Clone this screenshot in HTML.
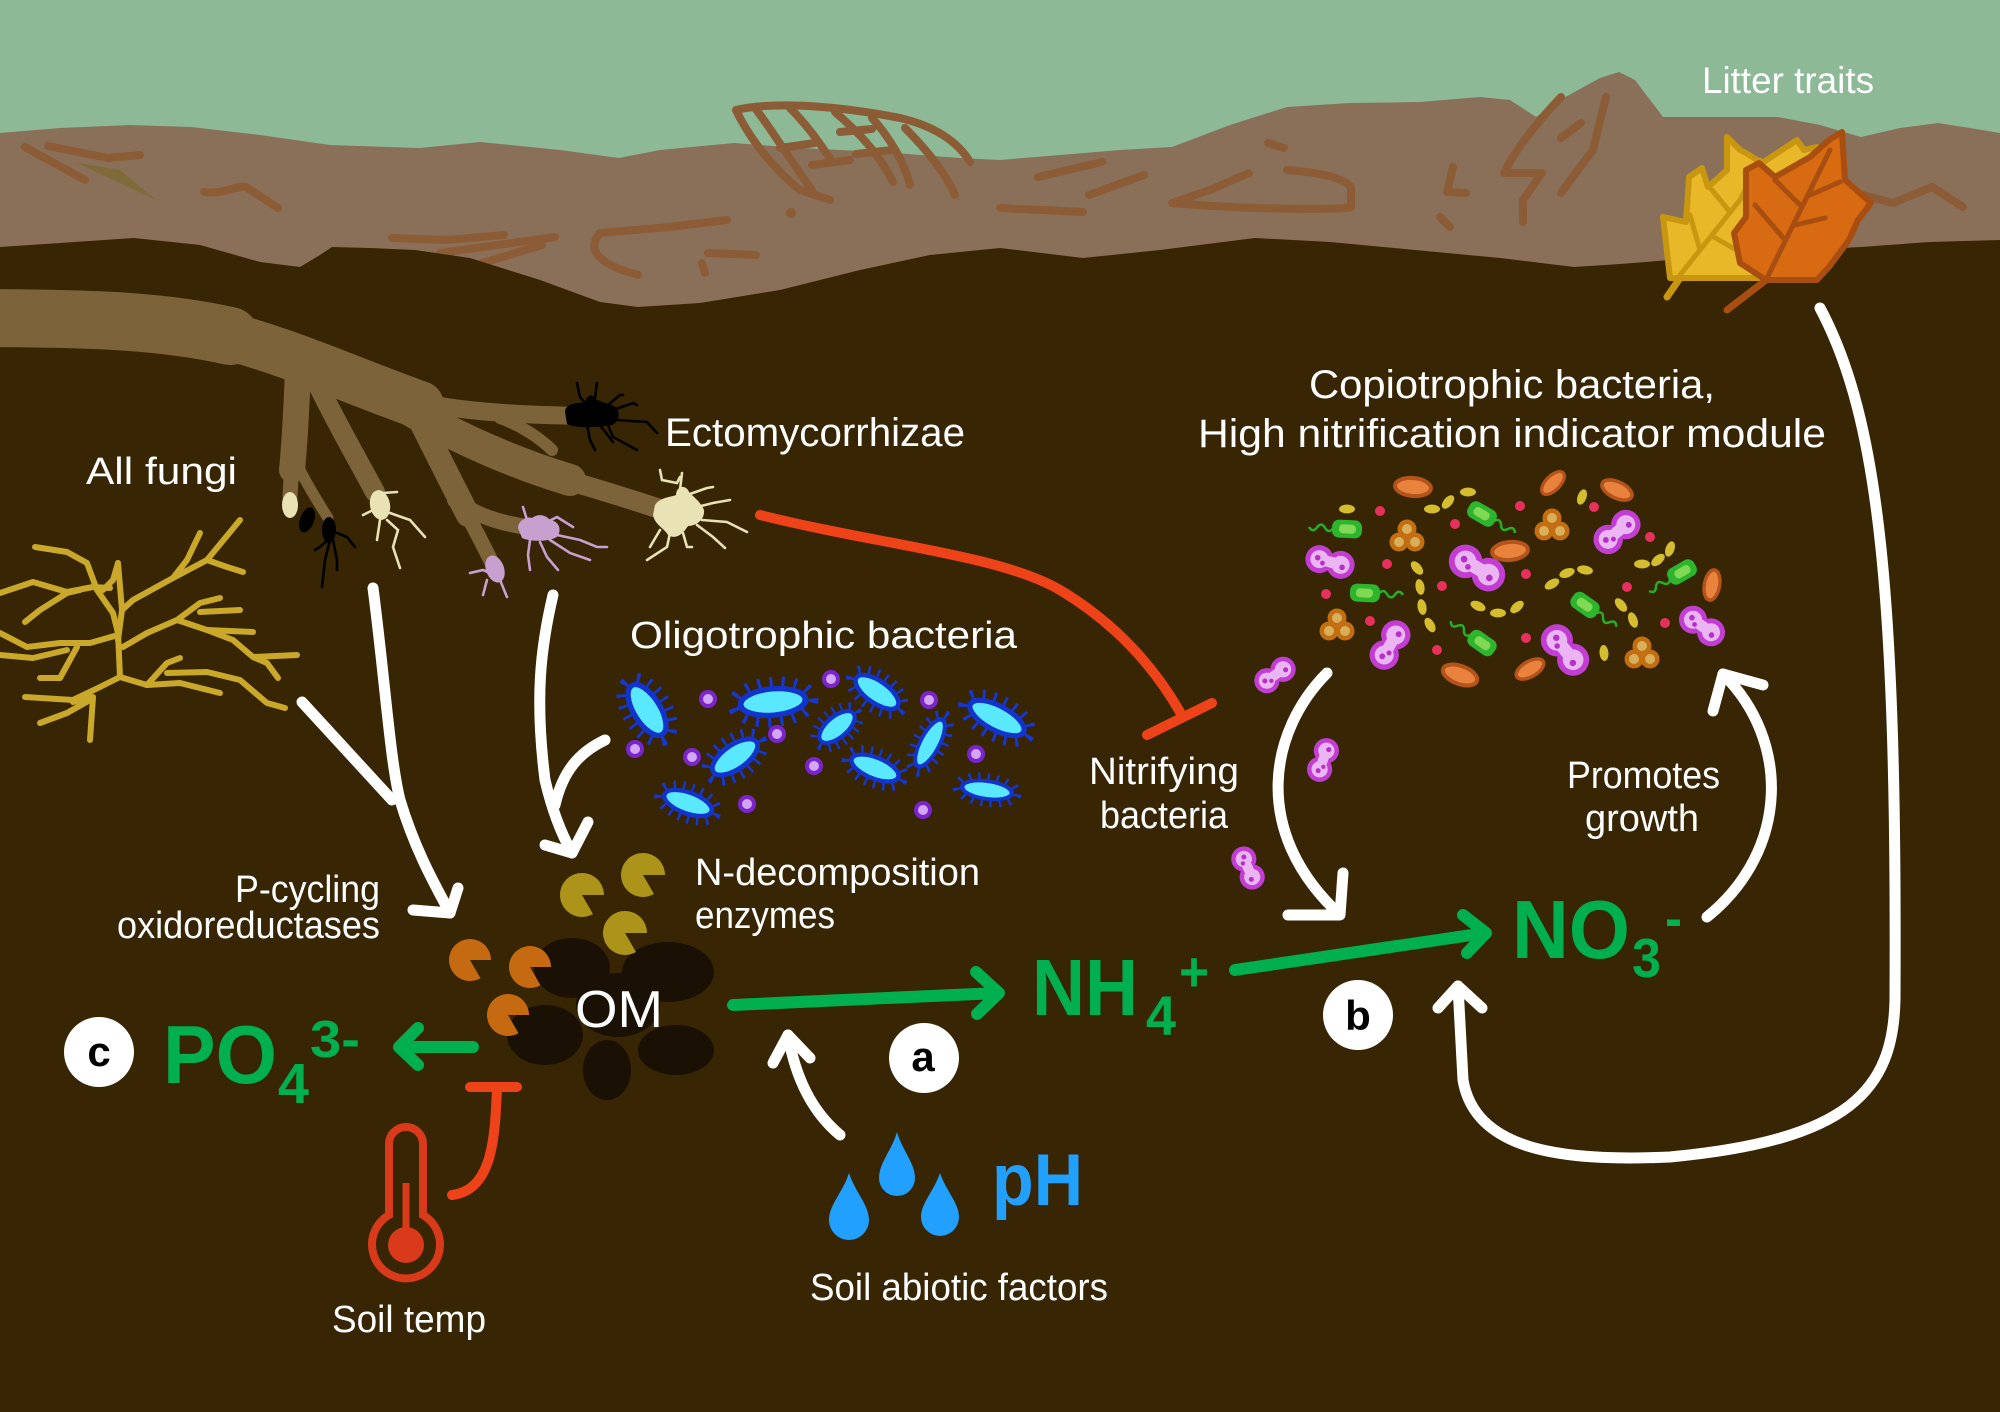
<!DOCTYPE html>
<html><head><meta charset="utf-8">
<style>html,body{margin:0;padding:0;background:#372503;overflow:hidden}svg{display:block}</style>
</head>
<body>
<svg width="2000" height="1412" viewBox="0 0 2000 1412" xmlns="http://www.w3.org/2000/svg">
<defs>
  <g id="oli"><ellipse rx="27" ry="13" fill="none" stroke="#1636D6" stroke-width="16" stroke-dasharray="2.2 6.5"/><ellipse rx="25" ry="11" fill="#5AE8FF" stroke="#1234CC" stroke-width="4.5"/></g>
  <g id="pd"><circle r="9" fill="#7A24D0"/><circle r="5" fill="#D4A6F2"/></g>
  <g id="dip"><circle cx="-11" r="14" fill="#C23ED3"/><circle cx="11" r="14" fill="#C23ED3"/><circle cx="-11" r="9" fill="#EBB4F3"/><circle cx="11" r="9" fill="#EBB4F3"/><rect x="-11" y="-5.5" width="22" height="11" fill="#EBB4F3"/><circle cx="-13" cy="-1" r="2.8" fill="#B531C6"/><circle cx="13" cy="2" r="2.8" fill="#B531C6"/><circle cx="-7" cy="3" r="2.4" fill="#B531C6"/></g>
  <g id="tri"><circle cx="0" cy="-7" r="9.5" fill="#C36E10"/><circle cx="-8" cy="6" r="9.5" fill="#C36E10"/><circle cx="8" cy="6" r="9.5" fill="#C36E10"/><circle cx="0" cy="-7" r="5" fill="#D8AF5A"/><circle cx="-8" cy="6" r="5" fill="#D8AF5A"/><circle cx="8" cy="6" r="5" fill="#D8AF5A"/></g>
  <g id="gb"><path d="M14,0 q4,-6 8,0 t8,0 t8,0" fill="none" stroke="#25B025" stroke-width="2.5"/><rect x="-15" y="-9" width="30" height="18" rx="7" fill="#2DB52D"/><rect x="-9" y="-4.5" width="17" height="9" rx="4" fill="#80D854"/></g>
  <g id="orr"><ellipse rx="18" ry="9" fill="#E9823D" stroke="#B4531A" stroke-width="4"/></g>
  <g id="yl"><ellipse rx="8" ry="4.5" fill="#D4BD2F"/></g>
  <g id="rd"><circle r="5" fill="#E6315D"/></g>
</defs>

<!-- background -->
<rect width="2000" height="1412" fill="#372503"/>
<rect width="2000" height="430" fill="#8DB997"/>
<path d="M0,133 L60,128 L130,125 L191,127 L260,135 L330,145 L420,148 L480,142 L560,150 L619,158 L660,150 L734,143 L800,148 L880,152 L960,158 L1000,160 L1060,155 L1120,150 L1172,147 L1230,125 L1287,107 L1350,103 L1420,102 L1480,97 L1510,100 L1536,117 L1560,100 L1600,78 L1619,72 L1635,80 L1663,117 L1720,117 L1778,117 L1820,125 L1861,137 L1900,128 L1938,123 L1970,128 L2000,133 L2000,430 L0,430 Z" fill="#8A7059"/>

<!-- litter doodles -->
<g fill="none" stroke="#8C5C36" stroke-width="8" stroke-linecap="round" stroke-linejoin="round">
  <path d="M25,147 L85,180 M48,146 L108,158 L140,155"/>
  <path d="M204,192 C220,195 238,185 246,187 L278,208"/>
  <path d="M392,238 L447,240 L504,235 M440,253 L555,237 M482,263 L542,245"/>
  <path d="M600,233 C585,250 600,265 638,275 M600,233 L670,227 L727,220"/>
  <path d="M708,253 L756,255 M702,263 L705,273"/>
  <path d="M736,110 C780,100 850,108 900,118 C935,126 958,142 970,162 M736,110 C750,140 775,170 800,190 L830,200"/>
  <path d="M755,108 C772,130 790,160 812,190 M790,108 C808,126 822,146 832,162 M835,112 C858,132 878,152 893,182 M872,118 C892,140 905,165 910,185 M905,128 C925,148 945,172 955,195"/>
  <path d="M780,148 L815,143 M812,165 L850,160 M840,132 L872,129 M856,154 L892,150"/>
  <path d="M1038,177 L1102,162 M1089,195 L1144,175 M1000,208 L1083,212"/>
  <path d="M1172,203 L1210,190 L1249,173 M1172,203 C1250,210 1340,210 1351,207 L1351,187 C1340,175 1310,172 1287,170"/>
  <path d="M1268,143 L1284,148 M1453,167 L1447,192 L1466,193 M1440,217 L1450,227"/>
  <path d="M1561,97 C1520,140 1505,170 1504,173 L1542,173 L1523,200 L1523,222 M1606,97 L1593,150 L1561,193 M1581,123 L1561,138"/>
  <path d="M1855,193 L1893,203 L1932,187 L1963,207"/>
</g>
<path d="M77,163 L120,170 L156,200 Z" fill="#7F6A3A"/>
<circle cx="791" cy="213" r="5" fill="#8C5C36"/>

<!-- soil -->
<path d="M0,247 L60,243 L134,238 L200,245 L260,262 L300,267 L320,255 L332,247 L370,248 L415,250 L470,258 L540,280 L600,302 L638,307 L700,303 L780,290 L860,270 L930,255 L1000,248 L1083,258 L1160,250 L1255,238 L1330,242 L1415,250 L1500,258 L1574,267 L1620,264 L1670,260 L1760,252 L1861,247 L1930,242 L2000,240 L2000,1412 L0,1412 Z" fill="#372503"/>

<!-- leaves -->
<g stroke-linecap="round" stroke-linejoin="round">
  <path d="M1667,297 L1680,278" stroke="#C8960F" stroke-width="7" fill="none"/>
  <path d="M1670,278 L1663,217 L1686,222 L1689,177 L1702,168 L1708,187 L1727,170 L1727,137 L1740,150 L1746,153 L1762,163 L1797,140 L1804,150 L1817,147 L1810,175 L1790,230 L1760,278 Z" fill="#E8B828" stroke="#C8960F" stroke-width="6"/>
  <path d="M1680,275 L1740,200 L1760,160 M1700,250 L1690,215 M1712,236 L1740,252 M1730,212 L1712,190" stroke="#C8960F" stroke-width="5" fill="none"/>
  <path d="M1766,280 L1727,310" stroke="#A84E10" stroke-width="7" fill="none"/>
  <path d="M1842,132 L1845,180 L1871,203 L1858,220 L1849,240 L1829,267 L1817,280 L1766,280 L1740,263 L1734,233 L1746,217 L1746,170 L1759,163 L1775,177 L1810,157 L1829,140 Z" fill="#D86A12" stroke="#A84E10" stroke-width="6"/>
  <path d="M1766,280 L1830,150 M1785,240 L1755,205 M1795,225 L1825,218 M1810,195 L1840,182 M1800,205 L1775,180" stroke="#A84E10" stroke-width="5" fill="none"/>
</g>

<!-- roots -->
<g fill="none" stroke="#7D6339" stroke-linecap="round" stroke-linejoin="round">
  <path d="M-30,318 C80,318 160,320 230,336" stroke-width="58"/>
  <path d="M220,334 C290,352 350,380 420,405" stroke-width="48"/>
  <path d="M410,400 C460,412 520,415 585,416" stroke-width="18"/>
  <path d="M500,418 C520,425 540,438 552,450" stroke-width="12"/>
  <path d="M410,410 C460,440 520,465 570,480" stroke-width="32"/>
  <path d="M560,478 C600,490 635,500 668,512" stroke-width="20"/>
  <path d="M420,420 C440,460 455,490 468,515" stroke-width="24"/>
  <path d="M465,510 C475,530 485,548 492,563" stroke-width="15"/>
  <path d="M455,500 C475,515 500,524 535,528" stroke-width="16"/>
  <path d="M298,370 C296,420 294,450 292,470" stroke-width="26"/>
  <path d="M292,460 L290,497" stroke-width="15"/>
  <path d="M318,385 C335,420 355,455 375,492" stroke-width="20"/>
  <path d="M300,470 C310,490 320,505 328,518" stroke-width="11"/>
</g>

<!-- ectomycorrhizae -->
<g fill="none" stroke-width="2.6" stroke-linecap="round">
  <g stroke="#000">
    <path d="M577,383 L580,397 L587,405 M597,383 L595,398 M608,405 L620,395 L623,395 M613,410 L633,403 L637,405 M617,420 L647,422 L657,433 M587,425 L590,440 L595,450 M600,425 L613,442 M607,423 L613,437 L637,450"/>
    <path d="M328,540 L320,547 L315,550 M330,540 L325,560 L322,587 M333,540 L337,560 L337,570 M337,533 L347,537 L355,547"/>
  </g>
  <g stroke="#E8E2B5">
    <path d="M660,470 L662,480 L677,483 L680,477 M682,473 L680,490 M687,495 L707,488 L713,487 M693,508 L713,503 L730,500 M702,520 L727,522 L747,532 M697,525 L713,537 L725,548 M683,533 L687,547 L692,547 M670,533 L667,547 L647,560 M660,530 L650,547"/>
    <path d="M383,493 L397,492 M373,510 L363,515 M380,520 L377,540 M387,520 L398,530 L393,547 L400,568 M390,513 L410,520 L425,537"/>
  </g>
  <g stroke="#C8A0D0">
    <path d="M523,507 L527,520 M547,522 L557,517 L573,527 M557,535 L580,540 L597,547 L607,547 M550,540 L570,553 L590,560 M540,542 L547,557 L558,570 M530,540 L528,555 L530,570"/>
    <path d="M470,573 L483,570 L490,573 M487,580 L483,595 M500,580 L507,597"/>
  </g>
</g>
<path d="M565,412 C565,403 580,402 585,403 C586,396 592,393 595,398 C598,402 610,403 617,408 C620,414 619,422 612,425 C595,428 575,428 567,424 Z" fill="#000"/>
<path d="M655,505 C660,497 672,497 676,495 C676,487 684,484 688,490 C690,495 700,500 704,510 C705,520 696,526 688,526 C683,534 676,540 668,535 C664,528 655,525 653,515 Z" fill="#E8E2B5"/>
<path d="M518,528 C518,520 528,516 532,518 C538,513 546,515 550,520 C558,521 562,528 558,536 C552,542 530,542 522,538 Z" fill="#C8A0D0"/>
<ellipse cx="495" cy="569" rx="9" ry="14" transform="rotate(-20 495 569)" fill="#C8A0D0"/>
<ellipse cx="380" cy="505" rx="10" ry="15" transform="rotate(-10 380 505)" fill="#E8E2B5"/>
<ellipse cx="290" cy="505" rx="8" ry="13" fill="#E8E2B5"/>
<ellipse cx="307" cy="520" rx="7" ry="13" transform="rotate(20 307 520)" fill="#000"/>
<ellipse cx="329" cy="530" rx="7" ry="13" fill="#000"/>

<!-- all fungi hyphae -->
<g fill="none" stroke="#C9A82A" stroke-width="6" stroke-linecap="round" stroke-linejoin="round">
  <path d="M0,593 L33,582 L67,592 L93,587 L110,588"/>
  <path d="M35,547 L67,552 L87,563 L97,590 L113,613 L118,633"/>
  <path d="M118,563 L113,580 L103,590"/>
  <path d="M25,622 L40,610 L67,593 L80,590"/>
  <path d="M0,633 L27,647 L60,643 L90,643 L118,635"/>
  <path d="M0,655 L33,658 L67,650"/>
  <path d="M118,633 L120,677 L100,687 L73,700 L25,697"/>
  <path d="M40,678 L60,678 L77,647"/>
  <path d="M73,702 L93,697 L90,740"/>
  <path d="M40,723 L67,713 L90,700"/>
  <path d="M120,677 L147,685 L180,683 L220,693"/>
  <path d="M147,685 L167,663 L180,658"/>
  <path d="M167,673 L207,672 L240,680 L267,703 L285,708"/>
  <path d="M123,647 L147,633 L177,620 L200,603 L220,598"/>
  <path d="M177,620 L207,630 L253,632"/>
  <path d="M207,630 L233,640 L253,657 L297,655"/>
  <path d="M253,657 L267,663 L278,678"/>
  <path d="M200,612 L240,610"/>
  <path d="M122,610 L133,600 L173,578 L207,560 L240,520"/>
  <path d="M173,578 L187,560 L200,533"/>
  <path d="M207,560 L227,567 L243,572"/>
  <path d="M118,563 L122,610 L118,640"/>
</g>

<!-- oligotrophic bacteria -->
<use href="#oli" transform="translate(647,710) rotate(58) scale(1.15,1.2)"/>
<use href="#oli" transform="translate(773,702) rotate(-5) scale(1.3,1.2)"/>
<use href="#oli" transform="translate(877,692) rotate(35) scale(1.0,1.0)"/>
<use href="#oli" transform="translate(837,727) rotate(-40) scale(0.85,0.95)"/>
<use href="#oli" transform="translate(735,757) rotate(-35) scale(1.05,1.1)"/>
<use href="#oli" transform="translate(930,743) rotate(-62) scale(1.05,0.85)"/>
<use href="#oli" transform="translate(997,718) rotate(28) scale(1.2,1.1)"/>
<use href="#oli" transform="translate(875,768) rotate(22) scale(1.0,0.95)"/>
<use href="#oli" transform="translate(688,803) rotate(20) scale(1.0,0.95)"/>
<use href="#oli" transform="translate(987,790) rotate(8) scale(1.0,0.8)"/>
<use href="#pd" x="708" y="699"/><use href="#pd" x="831" y="679"/><use href="#pd" x="929" y="700"/>
<use href="#pd" x="777" y="734"/><use href="#pd" x="635" y="749"/><use href="#pd" x="692" y="757"/>
<use href="#pd" x="814" y="766"/><use href="#pd" x="976" y="754"/><use href="#pd" x="747" y="804"/>
<use href="#pd" x="923" y="810"/>

<!-- copiotrophic bacteria -->
<use href="#orr" transform="translate(1413,487) rotate(5)"/>
<use href="#orr" transform="translate(1553,483) rotate(-45) scale(0.8)"/>
<use href="#orr" transform="translate(1617,490) rotate(25) scale(0.9)"/>
<use href="#orr" transform="translate(1510,551) rotate(-5)"/>
<use href="#orr" transform="translate(1712,585) rotate(-80) scale(0.85)"/>
<use href="#orr" transform="translate(1460,675) rotate(20)"/>
<use href="#orr" transform="translate(1530,669) rotate(-30) scale(0.85)"/>
<use href="#yl" transform="translate(1347,509)"/>
<use href="#yl" transform="translate(1432,509)"/>
<use href="#yl" transform="translate(1448,502) rotate(-50)"/>
<use href="#yl" transform="translate(1468,492)"/>
<use href="#yl" transform="translate(1582,497) rotate(-70)"/>
<use href="#yl" transform="translate(1417,568) rotate(50)"/>
<use href="#yl" transform="translate(1420,587) rotate(80)"/>
<use href="#yl" transform="translate(1422,607) rotate(80)"/>
<use href="#yl" transform="translate(1430,625) rotate(60)"/>
<use href="#yl" transform="translate(1478,606) rotate(25)"/>
<use href="#yl" transform="translate(1498,613)"/>
<use href="#yl" transform="translate(1517,607) rotate(-40)"/>
<use href="#yl" transform="translate(1552,584) rotate(-30)"/>
<use href="#yl" transform="translate(1567,573) rotate(-20)"/>
<use href="#yl" transform="translate(1585,570) rotate(10)"/>
<use href="#yl" transform="translate(1642,564)"/>
<use href="#yl" transform="translate(1658,560) rotate(-40)"/>
<use href="#yl" transform="translate(1670,549) rotate(-70)"/>
<use href="#yl" transform="translate(1621,605) rotate(50)"/>
<use href="#yl" transform="translate(1633,620) rotate(70)"/>
<use href="#yl" transform="translate(1604,653) rotate(85)"/>
<use href="#rd" x="1380" y="511"/><use href="#rd" x="1455" y="524"/><use href="#rd" x="1520" y="506"/>
<use href="#rd" x="1594" y="507"/><use href="#rd" x="1387" y="564"/><use href="#rd" x="1442" y="586"/>
<use href="#rd" x="1526" y="574"/><use href="#rd" x="1650" y="537"/><use href="#rd" x="1627" y="587"/>
<use href="#rd" x="1326" y="594"/><use href="#rd" x="1370" y="621"/><use href="#rd" x="1437" y="650"/>
<use href="#rd" x="1526" y="638"/><use href="#rd" x="1665" y="623"/>
<use href="#gb" transform="translate(1347,529) rotate(183)"/>
<use href="#gb" transform="translate(1482,514) rotate(30)"/>
<use href="#gb" transform="translate(1365,593) rotate(3)"/>
<use href="#gb" transform="translate(1682,572) rotate(150)"/>
<use href="#gb" transform="translate(1585,605) rotate(35)"/>
<use href="#gb" transform="translate(1482,643) rotate(215)"/>
<use href="#dip" transform="translate(1330,562) rotate(15)"/>
<use href="#dip" transform="translate(1477,568) rotate(30) scale(1.2)"/>
<use href="#dip" transform="translate(1617,532) rotate(-40) scale(1.05)"/>
<use href="#dip" transform="translate(1390,645) rotate(-60) scale(1.05)"/>
<use href="#dip" transform="translate(1565,650) rotate(50) scale(1.15)"/>
<use href="#dip" transform="translate(1702,626) rotate(35)"/>
<use href="#dip" transform="translate(1275,675) rotate(-35) scale(0.9)"/>
<use href="#dip" transform="translate(1323,760) rotate(-70) scale(0.9)"/>
<use href="#dip" transform="translate(1248,868) rotate(65) scale(0.9)"/>
<use href="#tri" x="1407" y="536"/><use href="#tri" x="1552" y="525"/>
<use href="#tri" x="1337" y="625"/><use href="#tri" x="1642" y="653"/>

<!-- OM blobs -->
<g fill="#1A1104">
  <ellipse cx="572" cy="968" rx="38" ry="30"/>
  <ellipse cx="668" cy="972" rx="46" ry="30"/>
  <ellipse cx="618" cy="1005" rx="42" ry="32"/>
  <ellipse cx="545" cy="1035" rx="38" ry="30"/>
  <ellipse cx="607" cy="1070" rx="24" ry="30"/>
  <ellipse cx="676" cy="1050" rx="38" ry="25"/>
</g>
<!-- enzymes (pacmen) -->
<g fill="#C56A10">
  <path d="M470,960 L491,960 A21,21 0 1 0 480.5,978.2 Z"/>
  <path d="M530,967 L551,967 A21,21 0 1 0 540.5,985.2 Z"/>
  <path d="M508,1015 L529,1015 A21,21 0 1 0 518.5,1033.2 Z"/>
</g>
<g fill="#AB9419">
  <path d="M582,895 L604,895 A22,22 0 1 0 593,914 Z"/>
  <path d="M643,875 L665,875 A22,22 0 1 0 654,894 Z"/>
  <path d="M625,933 L647,933 A22,22 0 1 0 636,952 Z"/>
</g>

<!-- white arrows -->
<g fill="none" stroke="#FFFFFF" stroke-width="11" stroke-linecap="round" stroke-linejoin="round">
  <path d="M302,702 L392,800"/>
  <path d="M373,588 C385,680 390,760 400,800 C415,850 435,885 450,913"/>
  <path d="M413,910 L450,913 L458,888"/>
  <path d="M553,595 C540,650 535,700 545,780 C552,810 562,835 572,853"/>
  <path d="M605,740 C580,752 563,770 555,805"/>
  <path d="M545,845 L572,853 L588,822"/>
  <path d="M840,1135 C810,1110 795,1075 788,1035"/>
  <path d="M773,1063 L788,1035 L810,1058"/>
  <path d="M1327,673 C1270,730 1250,830 1338,913"/>
  <path d="M1288,915 L1340,915 L1343,873"/>
  <path d="M1707,917 C1790,850 1790,740 1723,674"/>
  <path d="M1713,711 L1723,674 L1763,685"/>
  <path d="M1820,308 C1880,420 1897,600 1895,1000 C1893,1090 1850,1140 1670,1157 C1560,1162 1475,1150 1463,1080 L1458,986"/>
  <path d="M1438,1008 L1458,986 L1482,1008"/>
</g>

<!-- green arrows -->
<g fill="none" stroke="#00AF4F" stroke-width="12" stroke-linecap="round" stroke-linejoin="round">
  <path d="M733,1005 L998,993 M976,972 L999,993 L977,1014"/>
  <path d="M1235,970 L1485,933 M1463,915 L1486,933 L1467,953"/>
  <path d="M473,1047 L399,1047 M418,1028 L399,1047 L418,1065"/>
</g>

<!-- red inhibition lines -->
<g fill="none" stroke="#EE4318" stroke-width="10" stroke-linecap="round" stroke-linejoin="round">
  <path d="M760,515 C880,545 1000,555 1060,590 C1110,620 1150,660 1180,712"/>
  <path d="M1147,735 L1212,703"/>
  <path d="M470,1087 L517,1087 M497,1087 C495,1140 492,1190 452,1195"/>
</g>

<!-- thermometer -->
<path d="M389,1215 V1144 A17,17 0 0 1 423,1144 V1215 A34,34 0 1 1 389,1215 Z" fill="none" stroke="#D93A1A" stroke-width="8"/>
<circle cx="406" cy="1245" r="18" fill="#D93A1A"/>
<rect x="402.5" y="1183" width="7" height="62" fill="#D93A1A"/>

<!-- water drops -->
<g fill="#22A0FF">
  <path d="M849,1173 C855,1192 869,1205 869,1220 A20,20 0 0 1 829,1220 C829,1205 843,1192 849,1173 Z"/>
  <path d="M897,1132 C902,1150 915,1163 915,1178 A18,18 0 0 1 879,1178 C879,1163 892,1150 897,1132 Z"/>
  <path d="M940,1173 C946,1191 959,1203 959,1217 A19,19 0 0 1 921,1217 C921,1203 934,1191 940,1173 Z"/>
</g>

<!-- label circles -->
<circle cx="924" cy="1058" r="35" fill="#FFFFFF"/>
<circle cx="1358" cy="1015" r="35" fill="#FFFFFF"/>
<circle cx="99" cy="1052" r="35" fill="#FFFFFF"/>
<g font-family="'Liberation Sans', Arial, sans-serif" font-weight="bold" font-size="42" fill="#000" text-anchor="middle">
  <text x="923" y="1071">a</text>
  <text x="1358" y="1030">b</text>
  <text x="99" y="1066">c</text>
</g>

<!-- chemistry labels -->
<g font-family="'Liberation Sans', Arial, sans-serif" font-weight="bold" fill="#00AF4F">
  <text x="1032" y="1015" font-size="80" textLength="106" lengthAdjust="spacingAndGlyphs">NH</text>
  <text x="1146" y="1035" font-size="56" textLength="30" lengthAdjust="spacingAndGlyphs">4</text>
  <text x="1179" y="991" font-size="56" textLength="30" lengthAdjust="spacingAndGlyphs">+</text>
  <text x="1512" y="958" font-size="83" textLength="118" lengthAdjust="spacingAndGlyphs">NO</text>
  <text x="1632" y="977" font-size="55" textLength="29" lengthAdjust="spacingAndGlyphs">3</text>
  <text x="1665" y="937" font-size="55" textLength="17" lengthAdjust="spacingAndGlyphs">-</text>
  <text x="163" y="1083" font-size="83" textLength="114" lengthAdjust="spacingAndGlyphs">PO</text>
  <text x="278" y="1103" font-size="57" textLength="31" lengthAdjust="spacingAndGlyphs">4</text>
  <text x="310" y="1057" font-size="52" textLength="50" lengthAdjust="spacingAndGlyphs">3-</text>
</g>
<text x="992" y="1205" font-family="'Liberation Sans', Arial, sans-serif" font-weight="bold" font-size="73" fill="#22A0FF" textLength="91" lengthAdjust="spacingAndGlyphs">pH</text>

<!-- white labels -->
<g font-family="'Liberation Sans', Arial, sans-serif" font-size="38" fill="#FFFFFF" lengthAdjust="spacingAndGlyphs">
  <text x="1702" y="93" font-size="37" textLength="172" lengthAdjust="spacingAndGlyphs">Litter traits</text>
  <text x="1309" y="398" font-size="40" textLength="406" lengthAdjust="spacingAndGlyphs">Copiotrophic bacteria,</text>
  <text x="1198" y="447" font-size="40" textLength="628" lengthAdjust="spacingAndGlyphs">High nitrification indicator module</text>
  <text x="665" y="446" font-size="40" textLength="300" lengthAdjust="spacingAndGlyphs">Ectomycorrhizae</text>
  <text x="86" y="484" textLength="151" lengthAdjust="spacingAndGlyphs">All fungi</text>
  <text x="630" y="648" textLength="387" lengthAdjust="spacingAndGlyphs">Oligotrophic bacteria</text>
  <text x="1089" y="784" textLength="150" lengthAdjust="spacingAndGlyphs">Nitrifying</text>
  <text x="1100" y="828" textLength="128" lengthAdjust="spacingAndGlyphs">bacteria</text>
  <text x="1567" y="788" textLength="153" lengthAdjust="spacingAndGlyphs">Promotes</text>
  <text x="1585" y="831" textLength="114" lengthAdjust="spacingAndGlyphs">growth</text>
  <text x="695" y="885" textLength="285" lengthAdjust="spacingAndGlyphs">N-decomposition</text>
  <text x="695" y="928" textLength="140" lengthAdjust="spacingAndGlyphs">enzymes</text>
  <text x="235" y="902" textLength="145" lengthAdjust="spacingAndGlyphs">P-cycling</text>
  <text x="117" y="938" textLength="263" lengthAdjust="spacingAndGlyphs">oxidoreductases</text>
  <text x="575" y="1027" font-size="52" textLength="88" lengthAdjust="spacingAndGlyphs">OM</text>
  <text x="810" y="1300" textLength="298" lengthAdjust="spacingAndGlyphs">Soil abiotic factors</text>
  <text x="332" y="1332" textLength="154" lengthAdjust="spacingAndGlyphs">Soil temp</text>
</g>
</svg>
</body></html>
